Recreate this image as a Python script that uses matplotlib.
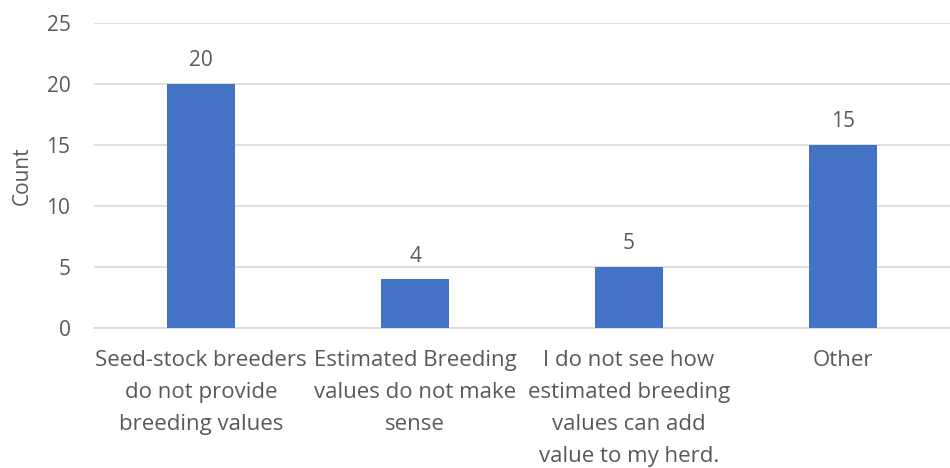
import matplotlib
matplotlib.use("Agg")
import matplotlib.pyplot as plt

categories = [
    "Seed-stock breeders\ndo not provide\nbreeding values",
    "Estimated Breeding\nvalues do not make\nsense",
    "I do not see how\nestimated breeding\nvalues can add\nvalue to my herd.",
    "Other",
]
counts = [20, 4, 5, 15]
y_ticks = [0, 5, 10, 15, 20, 25]

bar_color = "#4472C4"
text_color = "#595959"
grid_color = "#D9D9D9"

plt.rcParams["font.family"] = ["Open Sans", "DejaVu Sans"]

fig = plt.figure(figsize=(9.5, 4.68), dpi=100)
ax = fig.add_axes([94 / 950, 1 - 328 / 468, (950 - 94) / 950, (328 - 23) / 468])

x = list(range(len(categories)))
bars = ax.bar(x, counts, width=0.32, color=bar_color, zorder=3)

for xi, v in zip(x, counts):
    ax.annotate(str(v), (xi, v), xytext=(0, 9), textcoords="offset points",
                ha="center", va="bottom", fontsize=15, color=text_color)

ax.set_xlim(-0.5, len(categories) - 0.5)
ax.set_ylim(0, 25)
ax.set_yticks(y_ticks)
ax.set_xticks(x)
ax.set_xticklabels(categories, fontsize=16, color=text_color, linespacing=1.68)
ax.tick_params(axis="y", labelsize=15, labelcolor=text_color, length=0, pad=17)
ax.tick_params(axis="x", length=0, pad=16)

ax.yaxis.grid(True, color=grid_color, linewidth=1.2, zorder=0)
for s in ["top", "right", "left"]:
    ax.spines[s].set_visible(False)
ax.spines["bottom"].set_color(grid_color)
ax.spines["bottom"].set_linewidth(1.2)

ax.set_ylabel("Count", fontsize=15, color=text_color)
ax.yaxis.set_label_coords(-(94 - 33) / 856, 0.5)

fig.savefig("out.png", dpi=100)
